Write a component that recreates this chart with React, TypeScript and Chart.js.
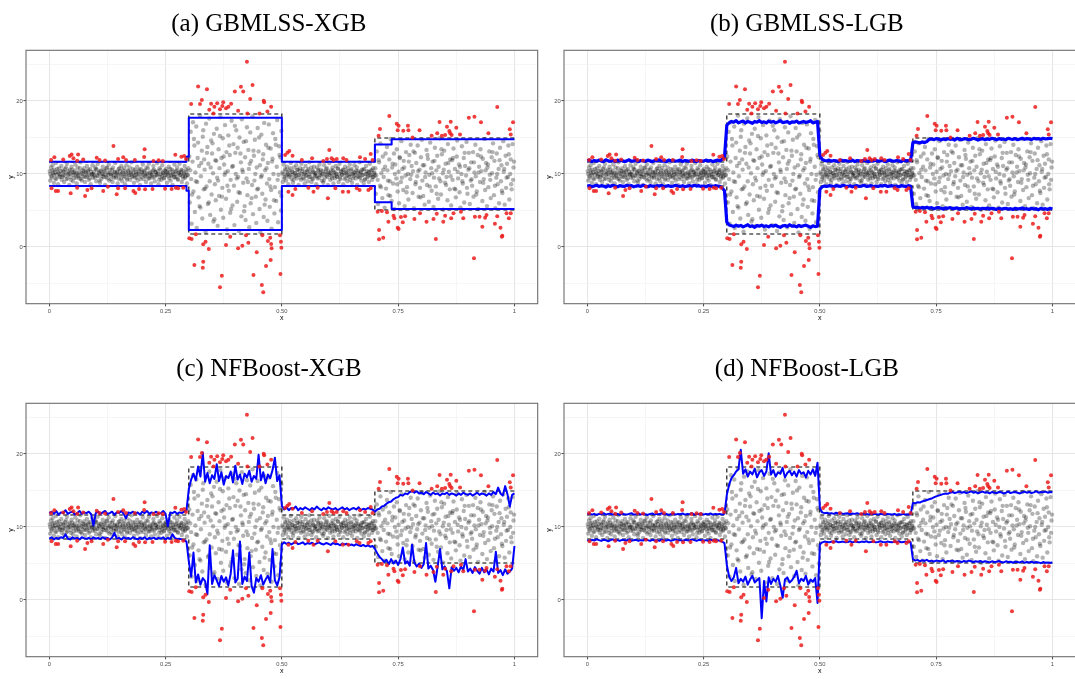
import { useEffect, useRef } from "react";
import { Chart, registerables } from "chart.js";
Chart.register(...registerables);

// ---------- axes ----------
const xTicks = [0, 0.125, 0.25, 0.375, 0.5, 0.625, 0.75, 0.875, 1];
const xMajor = [0, 0.25, 0.5, 0.75, 1];
const xLabels = ["0", "0.25", "0.50", "0.75", "1"];
const yTicks = [-5, 0, 5, 10, 15, 20, 25];
const yMajor = [0, 10, 20];
const yLabels = ["0", "10", "20"];

const titles = ["(a) GBMLSS-XGB", "(b) GBMLSS-LGB", "(c) NFBoost-XGB", "(d) NFBoost-LGB"];

// ---------- true 5% / 95% quantiles (step function) ----------
const trueX = [0, 0.3, 0.3, 0.5, 0.5, 0.7, 0.7, 1];
const trueUpper = [11.645, 11.645, 18.22, 18.22, 11.645, 11.645, 14.93, 14.93];
const trueLower = [8.355, 8.355, 1.78, 1.78, 8.355, 8.355, 5.07, 5.07];

// ---------- (a) GBMLSS-XGB: step estimates ----------
const aX = [0, 0.295, 0.295, 0.3, 0.3, 0.5, 0.5, 0.7, 0.7, 0.736, 0.736, 1];
const aUpper = [11.69, 11.69, 12.37, 12.37, 17.72, 17.72, 11.69, 11.69, 14.06, 14.06, 14.75, 14.75];
const aLower = [8.36, 8.36, 7.72, 7.72, 2.33, 2.33, 8.36, 8.36, 6.12, 6.12, 5.21, 5.21];

// ---------- grid of x for the noisy estimates ----------
const gridX = [
  0, .005, .01, .015, .02, .025, .03, .035, .04, .045,
  .05, .055, .06, .065, .07, .075, .08, .085, .09, .095,
  .1, .105, .11, .115, .12, .125, .13, .135, .14, .145,
  .15, .155, .16, .165, .17, .175, .18, .185, .19, .195,
  .2, .205, .21, .215, .22, .225, .23, .235, .24, .245,
  .25, .255, .26, .265, .27, .275, .28, .285, .29, .295,
  .3, .305, .31, .315, .32, .325, .33, .335, .34, .345,
  .35, .355, .36, .365, .37, .375, .38, .385, .39, .395,
  .4, .405, .41, .415, .42, .425, .43, .435, .44, .445,
  .45, .455, .46, .465, .47, .475, .48, .485, .49, .495,
  .5, .505, .51, .515, .52, .525, .53, .535, .54, .545,
  .55, .555, .56, .565, .57, .575, .58, .585, .59, .595,
  .6, .605, .61, .615, .62, .625, .63, .635, .64, .645,
  .65, .655, .66, .665, .67, .675, .68, .685, .69, .695,
  .7, .705, .71, .715, .72, .725, .73, .735, .74, .745,
  .75, .755, .76, .765, .77, .775, .78, .785, .79, .795,
  .8, .805, .81, .815, .82, .825, .83, .835, .84, .845,
  .85, .855, .86, .865, .87, .875, .88, .885, .89, .895,
  .9, .905, .91, .915, .92, .925, .93, .935, .94, .945,
  .95, .955, .96, .965, .97, .975, .98, .985, .99, .995,
  1,
];

// ---------- (b) GBMLSS-LGB ----------
const bUpper = [
  11.8, 11.9, 11.7, 11.85, 11.75, 11.9, 11.8, 11.7, 11.95, 11.8,
  11.75, 11.85, 11.7, 11.9, 11.8, 11.85, 11.7, 11.8, 11.95, 11.75,
  11.8, 11.9, 11.7, 11.85, 11.8, 11.75, 11.9, 11.8, 11.7, 11.85,
  11.8, 11.95, 11.75, 11.8, 11.7, 11.9, 11.8, 11.85, 11.75, 11.8,
  11.9, 11.7, 11.85, 11.8, 11.75, 11.9, 11.8, 11.7, 11.85, 11.8,
  11.75, 11.9, 11.8, 11.85, 11.7, 11.8, 11.9, 11.8, 12.0, 12.3,
  16.7, 17.0, 17.2, 17.1, 17.3, 17.0, 17.15, 17.25, 17.0, 17.2,
  17.1, 16.95, 17.2, 17.1, 17.3, 17.05, 17.15, 17.0, 17.25, 17.1,
  17.2, 17.0, 17.15, 17.3, 17.05, 17.1, 17.2, 16.95, 17.15, 17.1,
  17.25, 17.0, 17.1, 17.2, 17.05, 17.15, 17.3, 17.0, 17.1, 17.2,
  12.6, 12.0, 11.85, 11.8, 11.9, 11.75, 11.85, 11.8, 11.7, 11.9,
  11.8, 11.85, 11.75, 11.8, 11.9, 11.7, 11.85, 11.8, 11.75, 11.9,
  11.8, 11.7, 11.85, 11.8, 11.9, 11.75, 11.8, 11.85, 11.7, 11.8,
  11.9, 11.8, 11.75, 11.85, 11.8, 11.7, 11.9, 11.8, 11.85, 11.8,
  14.3, 14.4, 14.35, 14.25, 14.4, 14.3, 14.45, 14.75, 14.8, 14.7,
  14.85, 14.75, 14.65, 14.8, 14.7, 14.85, 14.75, 14.8, 14.65, 14.9,
  14.75, 14.7, 14.85, 14.8, 14.7, 14.75, 14.9, 14.8, 14.65, 14.75,
  14.85, 14.7, 14.8, 14.75, 14.9, 14.8, 14.7, 14.85, 14.75, 14.8,
  14.7, 14.9, 14.8, 14.75, 14.85, 14.7, 14.8, 14.9, 14.75, 14.85,
  14.8, 14.7, 14.9, 14.8, 14.85, 14.75, 14.9, 14.8, 14.85, 14.9,
  14.85,
];
const bLower = [
  8.35, 8.4, 8.25, 8.35, 8.45, 8.3, 8.4, 8.35, 8.2, 8.4,
  8.3, 8.45, 8.35, 8.25, 8.4, 8.35, 8.3, 8.45, 8.35, 8.4,
  8.25, 8.35, 8.4, 8.3, 8.45, 8.35, 8.25, 8.4, 8.35, 8.3,
  8.4, 8.35, 8.45, 8.25, 8.35, 8.4, 8.3, 8.35, 8.45, 8.35,
  8.3, 8.4, 8.25, 8.35, 8.4, 8.3, 8.45, 8.35, 8.4, 8.3,
  8.35, 8.25, 8.4, 8.35, 8.3, 8.4, 8.35, 8.3, 8.1, 7.7,
  3.4, 3.0, 2.9, 2.8, 3.0, 2.85, 2.95, 2.75, 2.9, 3.05,
  2.8, 2.9, 2.7, 2.95, 2.85, 3.0, 2.8, 2.9, 2.75, 2.95,
  2.85, 3.0, 2.8, 2.7, 2.9, 2.95, 2.8, 3.05, 2.85, 2.9,
  2.75, 2.95, 2.8, 2.9, 3.0, 2.85, 2.7, 2.9, 2.8, 2.85,
  7.9, 8.25, 8.35, 8.3, 8.4, 8.35, 8.25, 8.4, 8.35, 8.3,
  8.45, 8.35, 8.3, 8.4, 8.25, 8.35, 8.4, 8.3, 8.35, 8.45,
  8.3, 8.35, 8.4, 8.25, 8.35, 8.3, 8.4, 8.35, 8.45, 8.3,
  8.35, 8.4, 8.3, 8.35, 8.25, 8.4, 8.35, 8.3, 8.4, 8.35,
  5.5, 5.4, 5.45, 5.3, 5.4, 5.35, 5.45, 5.3, 5.4, 5.25,
  5.35, 5.4, 5.3, 5.2, 5.35, 5.3, 5.4, 5.25, 5.3, 5.35,
  5.2, 5.3, 5.25, 5.4, 5.3, 5.2, 5.35, 5.25, 5.3, 5.2,
  5.3, 5.25, 5.35, 5.2, 5.3, 5.25, 5.15, 5.3, 5.2, 5.25,
  5.3, 5.2, 5.25, 5.15, 5.3, 5.2, 5.25, 5.35, 5.2, 5.25,
  5.15, 5.3, 5.2, 5.25, 5.1, 5.3, 5.2, 5.25, 5.15, 5.3,
  5.2,
];

// ---------- (c) NFBoost-XGB ----------
const cUpper = [
  11.9, 12.1, 11.8, 12.2, 11.7, 12.0, 11.9, 12.3, 11.8, 12.0,
  12.1, 11.7, 11.9, 12.2, 11.8, 12.0, 11.9, 12.1, 11.75, 10.2,
  11.9, 12.1, 11.8, 12.0, 12.2, 11.8, 11.9, 12.1, 11.7, 12.0,
  11.9, 12.2, 11.8, 11.2, 12.0, 11.9, 12.1, 11.8, 12.0, 11.7,
  12.1, 11.9, 12.2, 11.8, 12.0, 11.9, 12.1, 11.8, 11.9, 12.2,
  11.8, 10.1, 12.0, 11.9, 12.1, 11.8, 12.0, 11.9, 12.1, 12.3,
  15.2, 16.5, 17.3, 16.4, 18.3, 16.9, 20.2, 16.2, 17.4, 16.0,
  17.1, 16.6, 18.6, 16.3, 17.5, 15.8, 17.0, 16.7, 17.6, 16.1,
  18.4, 16.5, 17.2, 15.9, 17.3, 16.8, 17.7, 16.2, 17.0, 16.6,
  19.9, 16.4, 17.5, 16.0, 17.2, 16.7, 17.8, 19.5, 16.3, 17.1,
  12.9, 12.4, 12.7, 12.3, 12.6, 12.5, 12.8, 12.3, 12.6, 12.4,
  12.7, 12.5, 12.3, 12.6, 12.4, 12.8, 12.5, 12.3, 12.6, 12.4,
  12.7, 12.5, 12.4, 12.6, 12.3, 12.5, 12.7, 12.4, 12.6, 12.3,
  12.5, 12.6, 12.4, 12.7, 12.3, 12.5, 12.4, 12.6, 12.5, 12.4,
  12.1, 12.4, 12.5, 12.8, 12.9, 13.2, 13.4, 13.5, 13.8, 14.0,
  14.1, 14.4, 14.3, 14.6, 14.5, 14.8, 14.9, 14.7, 14.9, 14.6,
  14.7, 14.5, 14.8, 14.6, 14.4, 14.7, 14.5, 14.6, 14.3, 14.6,
  14.5, 14.7, 14.4, 14.6, 14.5, 14.3, 14.6, 14.4, 14.7, 14.5,
  14.4, 14.6, 14.3, 14.5, 14.7, 14.4, 14.6, 14.5, 14.3, 14.6,
  14.4, 14.8, 14.5, 15.4, 14.6, 14.3, 15.6, 14.5, 12.8, 14.4,
  14.6,
];
const cLower = [
  8.4, 8.6, 8.3, 8.5, 8.4, 8.6, 8.5, 9.0, 8.4, 8.3,
  8.6, 8.4, 8.5, 8.3, 8.6, 8.45, 8.4, 8.5, 8.3, 8.6,
  8.4, 8.5, 8.35, 8.6, 8.4, 8.5, 8.3, 8.55, 9.2, 8.4,
  8.5, 8.3, 8.6, 8.4, 8.5, 8.35, 8.6, 8.45, 8.3, 8.5,
  8.4, 8.6, 8.3, 8.5, 8.4, 8.55, 8.35, 8.5, 8.4, 8.6,
  8.3, 8.5, 8.4, 9.0, 8.5, 8.35, 8.4, 8.3, 8.2, 8.0,
  5.3, 3.2, 6.5, 2.4, 3.5, 2.1, 3.0, 2.6, 0.8, 7.5,
  2.2, 3.4, 2.7, 1.9, 3.3, 2.5, 3.1, 2.0, 3.6, 6.8,
  2.4, 2.9, 8.0, 2.2, 3.2, 2.6, 6.5, 1.9, 1.0, 3.0,
  2.5, 3.4, 2.1, 2.8, 3.3, 2.4, 7.0, 2.7, 2.0, 3.1,
  7.6, 7.9, 7.7, 7.85, 7.6, 7.8, 7.9, 7.65, 7.75, 7.9,
  7.6, 7.8, 7.7, 7.85, 7.6, 7.75, 7.9, 7.7, 7.6, 7.8,
  7.7, 7.55, 7.8, 7.65, 7.7, 7.5, 7.75, 7.6, 7.7, 7.5,
  7.6, 7.45, 7.65, 7.5, 7.4, 7.55, 7.35, 7.5, 7.3, 7.4,
  7.0, 6.4, 5.9, 5.6, 5.2, 5.5, 4.9, 5.6, 5.0, 5.4,
  4.8, 5.6, 7.2, 5.0, 5.3, 4.7, 7.6, 5.1, 4.6, 5.0,
  4.4, 4.9, 7.8, 4.3, 4.7, 4.1, 2.5, 4.6, 7.0, 4.2,
  4.6, 3.9, 1.6, 4.5, 4.0, 4.4, 3.8, 4.6, 4.1, 5.6,
  3.9, 4.3, 3.7, 4.5, 4.0, 3.6, 4.4, 3.8, 4.2, 3.5,
  4.3, 3.9, 6.6, 3.7, 4.1, 3.4, 4.2, 3.6, 3.9, 4.3,
  7.4,
];

// ---------- (d) NFBoost-LGB ----------
const dUpper = [
  11.75, 11.85, 11.7, 11.8, 11.65, 11.8, 11.75, 11.9, 11.7, 11.8,
  11.85, 11.7, 11.75, 11.8, 11.65, 11.85, 11.75, 11.7, 11.8, 11.9,
  11.7, 11.75, 11.85, 11.7, 11.8, 11.75, 11.65, 11.8, 11.85, 11.7,
  11.8, 11.75, 11.9, 11.7, 11.8, 11.65, 11.75, 11.85, 11.7, 11.8,
  11.75, 11.85, 11.7, 11.8, 11.75, 11.9, 11.7, 11.8, 11.75, 11.85,
  11.7, 11.8, 11.75, 11.85, 11.7, 11.8, 11.75, 11.8, 11.7, 11.85,
  14.4, 15.8, 16.7, 17.1, 17.6, 17.9, 20.6, 17.3, 17.9, 16.9,
  17.6, 17.2, 18.0, 16.8, 17.5, 17.8, 17.0, 17.6, 20.1, 17.2,
  17.8, 16.9, 17.5, 17.3, 18.1, 16.8, 17.4, 17.7, 17.1, 17.6,
  16.9, 17.8, 17.3, 17.5, 16.8, 17.7, 17.2, 17.9, 17.0, 18.8,
  12.6, 12.0, 11.9, 11.95, 11.85, 11.9, 11.8, 11.95, 11.85, 11.9,
  11.8, 11.85, 11.9, 11.75, 11.85, 11.8, 11.9, 11.8, 11.75, 11.85,
  11.8, 11.7, 11.85, 11.75, 11.8, 11.7, 11.8, 11.75, 11.7, 11.8,
  11.75, 11.7, 11.8, 11.65, 11.75, 11.7, 11.8, 11.7, 11.75, 11.7,
  13.3, 13.25, 13.4, 13.35, 13.5, 13.6, 13.7, 13.8, 13.9, 14.05,
  14.2, 14.3, 14.4, 14.5, 14.6, 14.55, 14.7, 14.8, 14.65, 14.75,
  14.85, 14.7, 14.8, 14.65, 14.75, 14.9, 14.7, 14.8, 14.6, 14.75,
  14.85, 14.7, 14.75, 14.6, 14.8, 14.7, 14.65, 14.8, 14.75, 14.6,
  14.7, 14.85, 14.65, 14.75, 14.8, 14.7, 14.6, 14.75, 14.85, 14.7,
  14.8, 14.65, 14.75, 14.9, 14.7, 14.8, 14.75, 14.85, 14.7, 14.8,
  14.75,
];
const dLower = [
  8.2, 8.1, 8.25, 8.15, 8.3, 8.2, 8.1, 8.25, 8.2, 8.05,
  8.2, 8.3, 8.15, 8.2, 8.1, 8.25, 8.2, 8.15, 8.3, 8.1,
  8.2, 8.25, 8.1, 8.2, 8.15, 8.3, 8.2, 8.1, 8.25, 8.15,
  8.2, 8.1, 8.3, 8.2, 8.15, 8.25, 8.1, 8.2, 8.3, 8.15,
  8.2, 8.1, 8.25, 8.2, 8.15, 8.3, 8.2, 8.1, 8.25, 8.2,
  8.15, 8.2, 8.1, 8.25, 8.2, 8.15, 8.2, 8.1, 8.0, 7.8,
  4.8, 3.2, 2.6, 3.1, 4.4, 2.3, 2.9, 2.5, 3.2, 2.1,
  2.8, 3.3, 2.4, 2.7, 3.0, -2.5, 2.6, -0.2, 3.1, 2.2,
  2.9, 2.5, 3.3, 2.0, 0.3, 2.8, 3.1, 2.4, 2.7, 3.2,
  4.0, 2.3, 2.9, 2.6, 3.3, 2.1, 2.8, 2.5, 3.0, -0.4,
  7.6, 7.9, 8.0, 7.95, 7.9, 8.0, 7.95, 8.05, 7.9, 7.95,
  8.0, 7.9, 7.95, 8.05, 7.9, 8.0, 7.95, 7.9, 8.0, 7.95,
  8.05, 7.9, 7.95, 8.0, 7.9, 7.95, 8.05, 7.95, 7.9, 8.0,
  7.95, 7.9, 8.0, 7.95, 8.05, 7.9, 7.95, 8.0, 7.9, 7.95,
  5.6, 5.4, 5.5, 5.3, 5.45, 5.35, 5.5, 5.3, 5.4, 5.25,
  5.4, 5.35, 5.3, 5.45, 5.2, 5.35, 5.3, 5.4, 5.25, 5.35,
  5.3, 5.2, 5.35, 5.25, 5.4, 5.3, 5.2, 5.3, 5.25, 5.35,
  5.2, 5.3, 5.25, 5.15, 5.3, 5.2, 5.25, 5.35, 5.2, 5.15,
  5.3, 5.2, 5.25, 5.1, 5.25, 5.2, 5.15, 5.3, 5.1, 5.2,
  5.15, 5.25, 5.1, 5.2, 5.15, 5.05, 5.2, 5.1, 5.15, 5.1,
  5.15,
];

// ---------- observations inside the true interval (x, y pairs) ----------
const insideSeg1 = [
  .001,10.4, .002,9.1, .004,10.9, .005,9.7, .007,11.2, .008,10.1, .010,8.8, .011,10.6, .013,9.4, .014,11.5,
  .016,9.9, .018,10.3, .019,8.6, .021,10.8, .022,9.6, .024,10.0, .026,11.1, .027,9.2, .029,10.5, .030,9.8,
  .032,8.9, .034,10.7, .035,10.2, .037,9.3, .038,11.4, .040,9.9, .041,10.4, .043,8.5, .045,10.1, .046,9.6,
  .048,11.0, .049,10.6, .051,9.0, .053,10.2, .054,9.5, .056,11.3, .057,10.0, .059,8.7, .061,10.9, .062,9.8,
  .064,10.3, .065,9.4, .067,11.6, .069,10.1, .070,9.1, .072,10.5, .073,9.7, .075,10.8, .077,8.9, .078,10.2,
  .080,9.6, .081,11.1, .083,10.4, .085,9.2, .086,9.9, .088,10.7, .089,8.6, .091,10.0, .093,11.2, .094,9.5,
  .096,10.3, .097,9.8, .099,10.9, .101,9.0, .102,10.6, .104,11.4, .105,9.7, .107,10.1, .109,8.8, .110,10.4,
  .112,9.3, .113,10.0, .115,11.0, .117,9.6, .118,10.5, .120,8.5, .121,9.9, .123,10.8, .125,9.4, .126,10.2,
  .128,11.3, .129,9.1, .131,10.6, .133,9.8, .134,10.0, .136,8.9, .137,10.9, .139,9.5, .141,10.3, .142,11.5,
  .144,9.7, .145,10.1, .147,8.7, .149,10.7, .150,9.3, .152,10.4, .153,9.9, .155,11.1, .157,9.0, .158,10.2,
  .160,9.6, .161,10.8, .163,8.6, .165,10.0, .166,11.2, .168,9.4, .169,10.5, .171,9.8, .173,10.9, .174,9.2,
  .176,10.3, .177,11.6, .179,9.7, .181,10.1, .182,8.8, .184,10.6, .185,9.5, .187,10.0, .189,11.0, .190,9.1,
  .192,10.4, .193,9.9, .195,8.5, .197,10.7, .198,9.6, .200,10.2, .201,11.3, .203,9.3, .205,10.5, .206,9.8,
  .208,8.9, .209,10.9, .211,10.1, .213,9.4, .214,11.4, .216,9.7, .217,10.3, .219,8.7, .221,10.0, .222,9.5,
  .224,11.1, .225,10.6, .227,9.0, .229,10.2, .230,9.8, .232,11.5, .233,10.4, .235,8.6, .237,10.8, .238,9.6,
  .240,10.0, .241,9.2, .243,11.2, .245,10.1, .246,9.4, .248,10.5, .249,9.9, .251,10.7, .253,8.8, .254,10.3,
  .256,9.7, .257,11.0, .259,10.2, .261,9.1, .262,9.8, .264,10.6, .265,8.5, .267,10.0, .269,11.3, .270,9.5,
  .272,10.4, .273,9.6, .275,10.9, .277,9.2, .278,10.1, .280,11.4, .281,9.8, .283,10.3, .285,8.9, .286,10.5,
  .288,9.4, .289,10.0, .291,11.1, .293,9.7, .294,10.6, .296,8.7, .297,9.9, .299,10.8,
];
const insideSeg1b = [
  .002,10.0, .005,9.5, .007,10.5, .010,9.9, .012,10.2, .015,9.3, .017,10.7, .020,10.1, .023,9.7, .025,10.4,
  .028,9.6, .031,10.3, .033,9.8, .036,10.9, .039,9.4, .042,10.0, .044,10.6, .047,9.2, .050,10.2, .052,9.9,
  .055,10.5, .058,9.5, .060,10.1, .063,9.7, .066,10.8, .068,9.3, .071,10.0, .074,10.4, .076,9.6, .079,10.2,
  .082,9.8, .084,10.6, .087,9.4, .090,10.3, .092,9.9, .095,10.0, .098,9.5, .100,10.7, .103,9.8, .106,10.2,
  .108,9.1, .111,10.5, .114,9.7, .116,10.0, .119,10.4, .122,9.6, .124,10.9, .127,9.9, .130,10.1, .132,9.3,
  .135,10.6, .138,9.8, .140,10.2, .143,9.5, .146,10.3, .148,9.9, .151,10.8, .154,9.4, .156,10.0, .159,10.5,
  .162,9.7, .164,10.2, .167,9.2, .170,10.4, .172,9.9, .175,10.1, .178,9.6, .180,10.7, .183,9.8, .186,10.3,
  .188,9.5, .191,10.0, .194,10.6, .196,9.3, .199,10.2, .202,9.9, .204,10.4, .207,9.7, .210,10.0, .212,10.8,
  .215,9.4, .218,10.1, .220,9.8, .223,10.5, .226,9.6, .228,10.3, .231,9.9, .234,10.0, .236,9.2, .239,10.6,
  .242,9.7, .244,10.2, .247,9.5, .250,10.4, .252,9.9, .255,10.1, .258,9.4, .260,10.7, .263,9.8, .266,10.3,
  .268,9.6, .271,10.0, .274,10.5, .276,9.3, .279,10.2, .282,9.9, .284,10.6, .287,9.7, .290,10.1, .292,9.5,
  .295,10.3, .298,9.8,
];
const insideSeg2 = [
  .301,12.4, .302,6.1, .304,15.8, .305,9.3, .306,3.2, .308,11.7, .309,17.1, .310,7.6, .312,13.9, .313,4.8,
  .314,10.2, .316,16.5, .317,2.6, .318,8.9, .320,14.3, .321,6.8, .322,11.1, .324,18.0, .325,5.4, .326,9.7,
  .328,13.2, .329,3.9, .330,15.1, .332,7.9, .333,12.0, .334,10.6, .336,2.1, .337,16.9, .338,8.3, .340,13.7,
  .341,5.9, .342,11.4, .344,17.6, .345,9.0, .346,4.4, .348,14.6, .349,7.2, .350,12.8, .352,10.1, .353,3.5,
  .354,15.5, .356,8.6, .357,11.9, .358,6.4, .360,16.2, .361,9.5, .362,2.9, .364,13.4, .365,7.0, .366,10.8,
  .368,17.8, .369,5.1, .370,12.2, .372,8.1, .373,14.9, .374,4.0, .376,11.3, .377,9.9, .378,16.7, .380,6.6,
  .381,13.0, .382,2.4, .384,10.4, .385,15.3, .386,7.7, .388,12.6, .389,4.7, .390,9.2, .392,17.3, .393,11.0,
  .394,5.7, .396,14.1, .397,8.4, .398,3.0, .400,12.9, .401,10.0, .402,16.0, .404,6.2, .405,13.6, .406,9.6,
  .408,2.2, .409,15.0, .410,7.4, .412,11.6, .413,4.2, .414,17.5, .416,10.3, .417,8.8, .418,14.4, .420,5.6,
  .421,12.3, .422,3.7, .424,9.4, .425,16.4, .426,7.1, .428,13.3, .429,10.7, .430,2.7, .432,15.7, .433,6.0,
  .434,11.8, .436,8.5, .437,17.9, .438,4.5, .440,12.5, .441,9.1, .442,14.7, .444,6.9, .445,3.3, .446,10.9,
  .448,16.3, .449,8.0, .450,13.1, .452,5.2, .453,11.2, .454,2.0, .456,15.4, .457,9.8, .458,7.3, .460,12.7,
  .461,4.1, .462,17.0, .464,10.5, .465,6.5, .466,14.0, .468,8.7, .469,3.6, .470,11.5, .472,16.8, .473,9.3,
  .474,5.5, .476,13.5, .477,7.8, .478,2.5, .480,12.1, .481,15.6, .482,10.0, .484,4.6, .485,8.2, .486,14.8,
  .488,6.3, .489,11.0, .490,17.4, .492,3.4, .493,9.9, .494,13.8, .496,7.5, .497,12.3, .498,5.0, .499,15.9,
];
const insideSeg2b = [
  .303,10.5, .307,7.2, .311,14.8, .315,9.0, .319,12.2, .323,5.6, .327,11.5, .331,16.0, .335,8.0, .339,12.9,
  .343,6.1, .347,10.9, .351,14.2, .355,3.8, .359,11.8, .363,9.1, .367,15.2, .371,6.9, .375,12.4, .379,10.2,
  .383,8.4, .387,13.9, .391,5.2, .395,11.1, .399,16.6, .403,9.4, .407,7.5, .411,12.8, .415,10.6, .419,4.9,
  .423,14.5, .427,8.9, .431,11.4, .435,6.7, .439,13.2, .443,10.0, .447,7.9, .451,15.0, .455,9.6, .459,12.0,
  .463,5.8, .467,10.8, .471,13.6, .475,8.3, .479,11.7, .483,6.4, .487,14.0, .491,9.2, .495,12.6, .499,7.0,
];
const insideSeg3 = [
  .501,10.2, .502,8.9, .504,11.3, .506,9.6, .507,10.7, .509,9.1, .511,11.0, .512,10.0, .514,8.6, .516,10.5,
  .517,9.8, .519,11.5, .521,9.3, .522,10.3, .524,8.8, .526,10.9, .527,9.7, .529,10.1, .531,11.2, .532,9.4,
  .534,10.6, .536,8.5, .537,9.9, .539,10.8, .541,9.2, .542,11.4, .544,10.4, .546,9.5, .547,10.0, .549,8.7,
  .551,11.1, .552,9.8, .554,10.3, .556,9.0, .557,10.7, .559,11.6, .561,9.6, .562,10.2, .564,8.9, .566,10.5,
  .567,9.3, .569,11.0, .571,10.1, .572,9.7, .574,8.6, .576,10.9, .577,9.4, .579,10.4, .581,11.3, .582,9.9,
  .584,10.6, .586,9.1, .587,10.0, .589,8.8, .591,11.2, .592,9.5, .594,10.3, .596,9.8, .597,10.8, .599,8.5,
  .601,10.1, .602,11.5, .604,9.2, .606,10.5, .607,9.7, .609,10.9, .611,8.7, .612,10.2, .614,9.4, .616,11.1,
  .617,10.0, .619,9.6, .621,10.7, .622,8.9, .624,11.4, .626,9.3, .627,10.4, .629,9.9, .631,10.6, .632,8.6,
  .634,10.1, .636,11.0, .637,9.5, .639,10.3, .641,9.0, .642,10.8, .644,9.8, .646,11.3, .647,9.2, .649,10.5,
  .651,8.8, .652,10.0, .654,9.7, .656,11.2, .657,10.2, .659,9.4, .661,10.9, .662,8.5, .664,10.4, .666,9.6,
  .667,11.6, .669,10.1, .671,9.1, .672,10.6, .674,9.9, .676,8.7, .677,10.7, .679,9.3, .681,11.1, .682,10.0,
  .684,9.5, .686,10.3, .687,8.9, .689,11.4, .691,9.8, .692,10.5, .694,9.2, .696,10.8, .697,9.6, .699,10.2,
];
const insideSeg3b = [
  .503,10.0, .505,9.4, .508,10.5, .510,9.8, .513,10.2, .515,9.6, .518,10.8, .520,9.9, .523,10.3, .525,9.2,
  .528,10.1, .530,9.7, .533,10.6, .535,9.9, .538,10.4, .540,9.5, .543,10.0, .545,10.7, .548,9.3, .550,10.2,
  .553,9.8, .555,10.5, .558,9.6, .560,10.0, .563,10.9, .565,9.4, .568,10.3, .570,9.9, .573,10.1, .575,9.7,
  .578,10.6, .580,9.5, .583,10.2, .585,9.8, .588,10.4, .590,9.1, .593,10.0, .595,10.7, .598,9.6, .600,10.3,
  .603,9.9, .605,10.1, .608,9.4, .610,10.5, .613,9.8, .615,10.2, .618,9.7, .620,10.8, .623,10.0, .625,9.5,
  .628,10.3, .630,9.9, .633,10.6, .635,9.3, .638,10.1, .640,9.8, .643,10.4, .645,9.6, .648,10.0, .650,10.7,
  .653,9.4, .655,10.2, .658,9.9, .660,10.5, .663,9.7, .665,10.1, .668,9.5, .670,10.3, .673,9.8, .675,10.6,
  .678,9.2, .680,10.0, .683,10.4, .685,9.7, .688,10.2, .690,9.9, .693,10.5, .695,9.6, .698,10.1, .700,9.8,
];
const insideSeg4 = [
  .701,10.8, .702,7.3, .704,13.1, .706,9.2, .707,5.9, .709,11.6, .711,8.4, .712,14.2, .714,10.1, .716,6.7,
  .717,12.4, .719,9.6, .721,5.4, .722,11.0, .724,8.0, .726,13.7, .727,10.5, .729,7.1, .731,12.0, .732,9.0,
  .734,14.8, .736,6.3, .737,10.9, .739,8.7, .741,12.8, .742,5.2, .744,11.3, .746,9.4, .747,13.4, .749,7.6,
  .751,10.3, .752,6.0, .754,12.2, .756,8.9, .757,14.5, .759,10.7, .761,7.8, .762,11.8, .764,5.6, .766,9.8,
  .767,13.0, .769,8.2, .771,10.0, .772,6.5, .774,12.6, .776,9.3, .777,14.0, .779,11.1, .781,7.4, .782,10.4,
  .784,5.3, .786,12.9, .787,8.6, .789,11.5, .791,9.7, .792,13.9, .794,6.9, .796,10.6, .797,8.1, .799,12.3,
  .801,14.7, .802,9.1, .804,7.0, .806,11.2, .807,5.8, .809,10.2, .811,13.3, .812,8.5, .814,12.1, .816,6.2,
  .817,9.9, .819,14.3, .821,10.8, .822,7.7, .824,11.7, .826,5.5, .827,9.5, .829,13.6, .831,8.3, .832,10.5,
  .834,12.5, .836,6.6, .837,11.0, .839,14.9, .841,9.0, .842,7.2, .844,12.7, .846,10.1, .847,5.1, .849,13.2,
  .851,8.8, .852,11.4, .854,9.6, .856,6.4, .857,14.1, .859,10.3, .861,7.9, .862,12.0, .864,5.7, .866,11.9,
  .867,9.2, .869,13.5, .871,8.0, .872,10.7, .874,6.8, .876,12.4, .877,14.6, .879,9.4, .881,11.3, .882,7.5,
  .884,5.4, .886,10.0, .887,13.8, .889,8.7, .891,12.2, .892,6.1, .894,11.1, .896,9.8, .897,14.4, .899,7.3,
  .901,10.6, .902,12.9, .904,5.9, .906,9.1, .907,11.6, .909,8.4, .911,13.0, .912,6.9, .914,10.2, .916,14.0,
  .917,9.7, .919,7.6, .921,12.6, .922,5.2, .924,11.0, .926,8.9, .927,13.4, .929,10.4, .931,6.3, .932,12.1,
  .934,9.3, .936,14.8, .937,7.8, .939,11.5, .941,5.6, .942,10.9, .944,8.2, .946,13.1, .947,9.9, .949,6.7,
  .951,12.3, .952,10.1, .954,14.2, .956,7.1, .957,11.8, .959,5.3, .961,9.5, .962,12.8, .964,8.6, .966,10.7,
  .967,6.0, .969,13.6, .971,9.0, .972,11.2, .974,7.4, .976,14.5, .977,10.3, .979,5.8, .981,12.5, .982,8.1,
  .984,11.4, .986,9.6, .987,13.9, .989,6.5, .991,10.0, .992,12.0, .994,7.9, .996,14.1, .997,9.2, .999,11.7,
];
const insideSeg4b = [
  .703,9.8, .708,11.9, .713,8.2, .718,10.6, .723,12.8, .728,9.1, .733,7.0, .738,11.4, .743,10.0, .748,8.6,
  .753,12.3, .758,9.5, .763,10.9, .768,7.5, .773,11.7, .778,9.9, .783,13.1, .788,8.9, .793,10.4, .798,6.8,
  .803,11.2, .808,9.6, .813,12.6, .818,8.3, .823,10.1, .828,11.8, .833,7.3, .838,9.4, .843,13.4, .848,10.6,
  .853,8.5, .858,11.5, .863,9.7, .868,12.2, .873,7.9, .878,10.3, .883,11.0, .888,9.0, .893,12.9, .898,8.1,
  .903,10.8, .908,9.3, .913,11.6, .918,7.2, .923,10.2, .928,12.4, .933,8.8, .938,10.5, .943,11.3, .948,9.2,
  .953,13.0, .958,8.4, .963,10.0, .968,11.9, .973,7.7, .978,10.7, .983,9.5, .988,12.7, .993,8.6, .998,10.9,
];

// ---------- observations outside the true interval (x, y pairs) ----------
const outsideSeg1 = [
  .004,11.92, .011,12.28, .030,12.0, .044,12.47, .048,12.69, .052,12.15, .060,11.8, .062,12.69, .073,12.0,
  .102,12.24, .108,11.92, .120,11.85, .138,13.84, .148,12.05, .159,12.28, .165,11.92, .184,11.92, .205,13.38,
  .204,12.33, .224,11.78, .235,11.9, .244,11.78, .271,12.65, .284,12.37, .290,12.47, .294,12.05,
  .005,8.04, .014,7.67, .019,7.67, .046,7.35, .060,8.13, .077,6.99, .082,7.81, .091,8.04, .116,7.67,
  .126,8.26, .145,7.21, .148,8.04, .163,8.04, .181,7.67, .185,7.40, .193,7.95, .206,7.90, .222,7.95,
  .249,7.99, .263,7.95, .272,8.13, .277,8.04, .288,8.13,
];
const outsideSeg2 = [
  .305,19.59, .320,22.0, .324,19.59, .328,20.14, .339,21.6, .344,18.81, .348,19.63, .353,18.3, .355,19.22,
  .361,19.68, .367,18.86, .374,19.82, .372,19.32, .380,19.0, .385,19.22, .391,19.63, .399,21.32, .406,18.68,
  .412,21.96, .417,21.32, .425,25.39, .432,20.27, .437,22.19, .426,18.3, .461,20.05, .462,19.82, .469,18.58,
  .477,19.22, .452,18.3,
  .301,1.19, .306,1.10, .315,1.74, .331,0.37, .336,0.73, .343,-0.27, .312,-2.47, .331,-2.01, .330,-2.83,
  .371,-3.93, .367,-5.53, .380,0.27, .389,1.42, .406,-0.18, .415,0.18, .428,0.59, .423,1.6, .439,-3.84,
  .446,-0.73, .458,1.6, .457,-5.21, .460,-6.2, .466,-2.60, .475,1.28, .477,0.41, .478,-0.18, .476,-1.78,
  .497,-3.70, .496,1.6, .470,0.82, .498,0.73, .499,-0.09,
];
const outsideSeg3 = [
  .507,12.60, .512,12.92, .516,13.15, .523,12.51, .543,11.92, .565,12.15, .589,11.78, .597,12.05, .602,13.29,
  .607,12.15, .611,11.92, .618,12.05, .632,12.15, .639,11.92, .668,12.28, .679,12.05, .691,12.74, .695,11.92,
  .514,7.58, .523,7.12, .529,7.95, .557,8.13, .568,7.58, .577,8.13, .599,6.67, .615,8.04, .631,7.58,
  .643,7.58, .661,8.04, .667,7.81, .686,7.81, .691,8.04,
];
const outsideSeg4 = [
  .708,15.25, .711,16.16, .731,17.95, .747,16.89, .751,16.62, .749,15.98, .761,15.94, .771,16.62, .772,15.98,
  .781,15.0, .796,15.98, .822,15.25, .834,15.57, .839,17.12, .844,15.25, .851,15.34, .855,16.48, .860,15.89,
  .862,15.57, .863,17.17, .865,15.34, .875,16.35, .883,15.43, .902,17.72, .914,17.85, .928,17.08, .944,15.57,
  .963,19.18, .990,16.12, .992,15.43, .997,17.08,
  .706,4.84, .709,2.33, .709,1.05, .718,1.28, .715,4.93, .726,4.75, .729,3.47, .740,4.29, .742,3.93,
  .749,2.65, .751,2.47, .756,4.11, .760,3.38, .765,4.20, .785,3.84, .797,4.61, .811,3.47, .826,3.84,
  .831,1.10, .833,4.57, .847,3.47, .851,4.29, .864,3.93, .869,4.61, .885,4.84, .890,3.93, .915,4.16,
  .913,-1.55, .925,4.16, .931,2.79, .937,4.02, .940,4.38, .958,3.20, .963,4.20, .970,2.65, .973,1.42,
  .974,1.55, .983,4.61, .988,3.93, .992,4.61,
];

// ---------- helpers ----------
const pairs = (...arrs: number[][]) => {
  const out: { x: number; y: number }[] = [];
  arrs.forEach((a) => {
    for (let i = 0; i + 1 < a.length; i += 2) out.push({ x: a[i], y: a[i + 1] });
  });
  return out;
};
const zip = (xs: number[], ys: number[]) => xs.map((x, i) => ({ x, y: ys[i] }));

const panelBox = {
  id: "panelBox",
  afterDraw(chart: any) {
    const { ctx, chartArea } = chart;
    const { left, top, right, bottom } = chartArea;
    ctx.save();
    ctx.strokeStyle = "#6e6e6e";
    ctx.lineWidth = 1.1;
    ctx.strokeRect(left, top, right - left, bottom - top);
    ctx.restore();
  },
};

type PanelDef = {
  title: string;
  xs: number[];
  upper: number[];
  lower: number[];
  width: number;
  left: number;
  top: number;
  titlePadTop: number;
  titlePadBottom: number;
};

const panels: PanelDef[] = [
  { title: titles[0], xs: aX, upper: aUpper, lower: aLower, width: 2, left: 0, top: 0, titlePadTop: 9, titlePadBottom: 11.3 },
  { title: titles[1], xs: gridX, upper: bUpper, lower: bLower, width: 3.2, left: 538, top: 0, titlePadTop: 9, titlePadBottom: 11.3 },
  { title: titles[2], xs: gridX, upper: cUpper, lower: cLower, width: 2, left: 0, top: 353, titlePadTop: 1, titlePadBottom: 19.3 },
  { title: titles[3], xs: gridX, upper: dUpper, lower: dLower, width: 2, left: 538, top: 353, titlePadTop: 1, titlePadBottom: 19.3 },
];

const W = 545;
const H = 330;
const tickFont = { family: "Liberation Sans", size: 5.8 };
const axisTitleFont = { family: "Liberation Sans", size: 7 };

function Panel({ def }: { def: PanelDef }) {
  const ref = useRef<HTMLCanvasElement | null>(null);
  useEffect(() => {
    if (!ref.current) return;
    const isMajorX = (v: number) => xMajor.indexOf(v) >= 0;
    const isMajorY = (v: number) => yMajor.indexOf(v) >= 0;
    const blue = "#0000ff";
    const chart = new Chart(ref.current, {
      type: "scatter",
      data: {
        datasets: [
          {
            label: "outside",
            data: pairs(outsideSeg1, outsideSeg2, outsideSeg3, outsideSeg4),
            showLine: false,
            pointRadius: 2,
            pointBorderWidth: 0,
            pointBackgroundColor: "rgba(236,28,28,0.85)",
            order: 0,
          },
          {
            label: "upper",
            data: zip(def.xs, def.upper),
            showLine: true,
            borderColor: blue,
            borderWidth: def.width,
            borderJoinStyle: "round",
            pointRadius: 0,
            order: 1,
          },
          {
            label: "lower",
            data: zip(def.xs, def.lower),
            showLine: true,
            borderColor: blue,
            borderWidth: def.width,
            borderJoinStyle: "round",
            pointRadius: 0,
            order: 1,
          },
          {
            label: "true upper",
            data: zip(trueX, trueUpper),
            showLine: true,
            borderColor: "#000000",
            borderWidth: 1.1,
            borderDash: [4, 3],
            pointRadius: 0,
            order: 2,
          },
          {
            label: "true lower",
            data: zip(trueX, trueLower),
            showLine: true,
            borderColor: "#000000",
            borderWidth: 1.1,
            borderDash: [4, 3],
            pointRadius: 0,
            order: 2,
          },
          {
            label: "inside",
            data: pairs(insideSeg1, insideSeg1b, insideSeg2, insideSeg2b, insideSeg3, insideSeg3b, insideSeg4, insideSeg4b),
            showLine: false,
            pointRadius: 2.2,
            pointBorderWidth: 0,
            pointBackgroundColor: "rgba(0,0,0,0.3)",
            order: 3,
          },
        ] as any,
      },
      options: {
        responsive: false,
        animation: false,
        events: [],
        layout: { padding: { left: 0, right: 7.3, top: 0, bottom: 0 } },
        plugins: {
          legend: { display: false },
          tooltip: { enabled: false },
          title: {
            display: true,
            text: def.title,
            color: "#000000",
            font: { family: "Liberation Serif", size: 25, weight: "normal" },
            padding: { top: def.titlePadTop, bottom: def.titlePadBottom },
          },
        },
        scales: {
          x: {
            type: "linear",
            min: -0.05,
            max: 1.05,
            afterBuildTicks: (s: any) => {
              s.ticks = xTicks.map((v) => ({ value: v }));
            },
            afterFit: (s: any) => {
              s.height = 26.3;
            },
            ticks: {
              autoSkip: false,
              maxRotation: 0,
              minRotation: 0,
              padding: 1.8,
              color: "#4d4d4d",
              font: tickFont,
              callback: (v: any) => {
                const k = xMajor.indexOf(Number(v));
                return k >= 0 ? xLabels[k] : "";
              },
            },
            grid: {
              color: (c: any) => (isMajorX(c.tick?.value) ? "#e6e6e6" : "#f0f0f0"),
              lineWidth: (c: any) => (isMajorX(c.tick?.value) ? 1.1 : 0.6),
              tickLength: 2.7,
              tickColor: (c: any) => (isMajorX(c.tick?.value) ? "#333333" : "rgba(0,0,0,0)"),
              tickWidth: 0.9,
            },
            border: { display: false },
            title: {
              display: true,
              text: "x",
              color: "#000000",
              font: axisTitleFont,
              padding: { top: 0, bottom: 7.4 },
            },
          },
          y: {
            type: "linear",
            min: -7.77,
            max: 26.95,
            afterBuildTicks: (s: any) => {
              s.ticks = yTicks.map((v) => ({ value: v }));
            },
            afterFit: (s: any) => {
              s.width = 26;
            },
            ticks: {
              autoSkip: false,
              padding: 0.8,
              color: "#4d4d4d",
              font: tickFont,
              callback: (v: any) => {
                const k = yMajor.indexOf(Number(v));
                return k >= 0 ? yLabels[k] : "";
              },
            },
            grid: {
              color: (c: any) => (isMajorY(c.tick?.value) ? "#e6e6e6" : "#f0f0f0"),
              lineWidth: (c: any) => (isMajorY(c.tick?.value) ? 1.1 : 0.6),
              tickLength: 2.5,
              tickColor: (c: any) => (isMajorY(c.tick?.value) ? "#333333" : "rgba(0,0,0,0)"),
              tickWidth: 0.9,
            },
            border: { display: false },
            title: {
              display: true,
              text: "y",
              color: "#000000",
              font: axisTitleFont,
              padding: { top: 7.2, bottom: 0 },
            },
          },
        },
      } as any,
      plugins: [panelBox],
    });
    return () => chart.destroy();
  }, [def]);
  return (
    <div style={{ position: "absolute", left: def.left, top: def.top, width: W, height: H }}>
      <canvas ref={ref} width={W} height={H} style={{ display: "block", width: W, height: H }} />
    </div>
  );
}

export default function App() {
  return (
    <div
      style={{
        position: "absolute",
        left: 0,
        top: 0,
        width: 1075,
        height: 679,
        overflow: "hidden",
        background: "#ffffff",
      }}
    >
      {panels.map((p) => (
        <Panel key={p.title} def={p} />
      ))}
    </div>
  );
}
